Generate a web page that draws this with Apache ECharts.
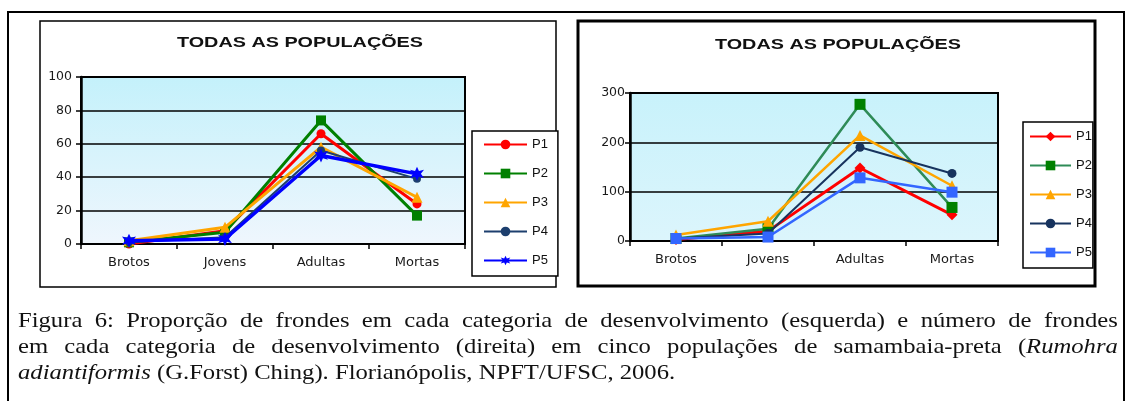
<!DOCTYPE html>
<html>
<head>
<meta charset="utf-8">
<script src="https://cdn.jsdelivr.net/npm/echarts@6/dist/echarts.min.js"></script>
<style>
html,body{margin:0;padding:0;background:#fff;}
#wrap{position:relative;width:1129px;height:401px;overflow:hidden;}
#chart{position:absolute;left:0;top:0;width:1129px;height:401px;}
#cap{position:absolute;left:18px;top:307px;width:982px;transform:scaleX(1.12);transform-origin:0 0;
 font-family:"Liberation Serif",serif;font-size:22px;line-height:26px;color:#111;}
#cap div.j{text-align:justify;text-align-last:justify;}
</style>
</head>
<body>
<div id="wrap">
<div id="chart"></div>
<div id="cap">
<div class="j">Figura 6: Proporção de frondes em cada categoria de desenvolvimento (esquerda) e número de frondes</div>
<div class="j">em cada categoria de desenvolvimento (direita) em cinco populações de samambaia-preta (<i>Rumohra</i></div>
<div><i>adiantiformis</i> (G.Forst) Ching). Florianópolis, NPFT/UFSC, 2006.</div>
</div>
</div>
<script>
// ---- data ----
const categories = ['Brotos', 'Jovens', 'Adultas', 'Mortas'];
const seriesNames = ['P1', 'P2', 'P3', 'P4', 'P5'];
const titleText = 'TODAS AS POPULAÇÕES';
// left: proportion (%)
const leftP1 = [0, 8, 66, 24];
const leftP2 = [1, 7, 74, 17];
const leftP3 = [2, 10, 58, 28];
const leftP4 = [1, 4, 56, 39];
const leftP5 = [2, 3, 53, 42];
const leftTicks = [0, 20, 40, 60, 80, 100];
// right: counts
const rightP1 = [3, 20, 148, 53];
const rightP2 = [5, 25, 277, 68];
const rightP3 = [12, 40, 214, 112];
const rightP4 = [5, 15, 190, 137];
const rightP5 = [5, 8, 128, 99];
const rightTicks = [0, 100, 200, 300];

const leftData = [leftP1, leftP2, leftP3, leftP4, leftP5];
const rightData = [rightP1, rightP2, rightP3, rightP4, rightP5];

const starPath = 'path://M0,-10 L2.5,-4 L9,-6 L5,0 L9,6 L2.5,4 L0,10 L-2.5,4 L-9,6 L-5,0 L-9,-6 L-2.5,-4 Z';
const leftStyle = [
  {color:'#ff0000', symbol:'circle', size:9, lw:3},
  {color:'#008000', symbol:'rect', size:10, lw:3},
  {color:'#ffa500', symbol:'triangle', size:11, lw:3},
  {color:'#1d3f6e', symbol:'circle', size:8, lw:2},
  {color:'#0000ff', symbol:starPath, size:14, lw:3.5}
];
const rightStyle = [
  {color:'#ff0000', symbol:'diamond', size:11, lw:3},
  {color:'#2e8b57', symbol:'rect', size:11, lw:2.5, sym:'#008000'},
  {color:'#ffa500', symbol:'triangle', size:11, lw:2.5},
  {color:'#17335e', symbol:'circle', size:9, lw:2},
  {color:'#3366ff', symbol:'rect', size:11, lw:2.5}
];

const series = [];
leftData.forEach((d, i) => {
  const s = leftStyle[i];
  series.push({
    name: seriesNames[i], type:'line', xAxisIndex:0, yAxisIndex:0, data:d,
    symbol:s.symbol, symbolSize:s.size, z:3+i,
    lineStyle:{color:s.color, width:s.lw}, itemStyle:{color:s.color},
    emphasis:{disabled:true}, animation:false
  });
});
rightData.forEach((d, i) => {
  const s = rightStyle[i];
  series.push({
    name: seriesNames[i] + ' ', type:'line', xAxisIndex:1, yAxisIndex:1, data:d,
    symbol:s.symbol, symbolSize:s.size, z:3+i,
    lineStyle:{color:s.color, width:s.lw}, itemStyle:{color:s.sym || s.color},
    emphasis:{disabled:true}, animation:false
  });
});

function bg(top, bottom){
  return {type:'linear', x:0, y:0, x2:0, y2:1, colorStops:[{offset:0,color:top},{offset:1,color:bottom}]};
}
const labelFont = {fontFamily:'DejaVu Sans', fontSize:12, color:'#1a1a1a'};

function xAxis(gi){
  return {type:'category', gridIndex:gi, data:categories, boundaryGap:true,
    axisLine:{lineStyle:{color:'#000', width:2}},
    axisTick:{show:true, length:5, lineStyle:{color:'#000', width:1.5}},
    axisLabel:Object.assign({margin:12}, labelFont, {fontSize:13}),
    splitLine:{show:false}};
}
function yAxis(gi, ticks, margin){
  return {type:'value', gridIndex:gi, min:ticks[0], max:ticks[ticks.length-1], interval:ticks[1]-ticks[0],
    axisLine:{show:true, lineStyle:{color:'#000', width:2.5}},
    axisTick:{show:true, length:5, lineStyle:{color:'#000', width:1.5}},
    axisLabel:Object.assign({margin:margin}, labelFont, {fontSize:12.5}),
    splitLine:{show:true, lineStyle:{color:'#000', width:1.5}}};
}
function legend(idx, left, top, pad, gap, width){
  return {
    data: seriesNames.map(n => idx === 0 ? n : n + ' '),
    orient:'vertical', left:left, top:top, padding:pad, itemGap:gap,
    itemWidth:width, itemHeight:12, borderColor:'#000', borderWidth:1.5, borderRadius:0,
    backgroundColor:'#fff', selectedMode:false,
    formatter: n => n.trim(),
    textStyle:{fontFamily:'Liberation Sans', fontSize:13, color:'#111'}
  };
}

const chart = echarts.init(document.getElementById('chart'), null, {renderer:'canvas'});
chart.setOption({
  animation:false,
  backgroundColor:'#fff',
  grid:[
    {left:81, top:77, width:384, height:167, show:true, borderColor:'#000', borderWidth:2, backgroundColor:bg('#c4f1fb','#eff6fd')},
    {left:630, top:93, width:368, height:148, show:true, borderColor:'#000', borderWidth:2, backgroundColor:bg('#c8f2fb','#dcf5fc')}
  ],
  xAxis:[xAxis(0), xAxis(1)],
  yAxis:[yAxis(0, leftTicks, 9), yAxis(1, rightTicks, 5)],
  legend:[legend(0, 472, 131, [7, 10, 9, 11], 16, 43), legend(1, 1023, 122, [8, 1, 9, 6], 16, 41)],
  graphic:[
    {type:'rect', shape:{x:8, y:12, width:1116, height:400}, style:{fill:null, stroke:'#000', lineWidth:2}, z:-10, silent:true},
    {type:'rect', shape:{x:40, y:21, width:516, height:266}, style:{fill:null, stroke:'#000', lineWidth:1.5}, z:-10, silent:true},
    {type:'rect', shape:{x:578, y:21, width:517, height:265}, style:{fill:null, stroke:'#000', lineWidth:3}, z:-10, silent:true},
    {type:'text', x:300, y:43, scaleX:1.32, style:{text:titleText, font:'bold 15px "Liberation Sans"', fill:'#111', align:'center', verticalAlign:'middle'}, silent:true},
    {type:'text', x:838, y:45, scaleX:1.32, style:{text:titleText, font:'bold 15px "Liberation Sans"', fill:'#111', align:'center', verticalAlign:'middle'}, silent:true}
  ],
  series: series
});
</script>
</body>
</html>
